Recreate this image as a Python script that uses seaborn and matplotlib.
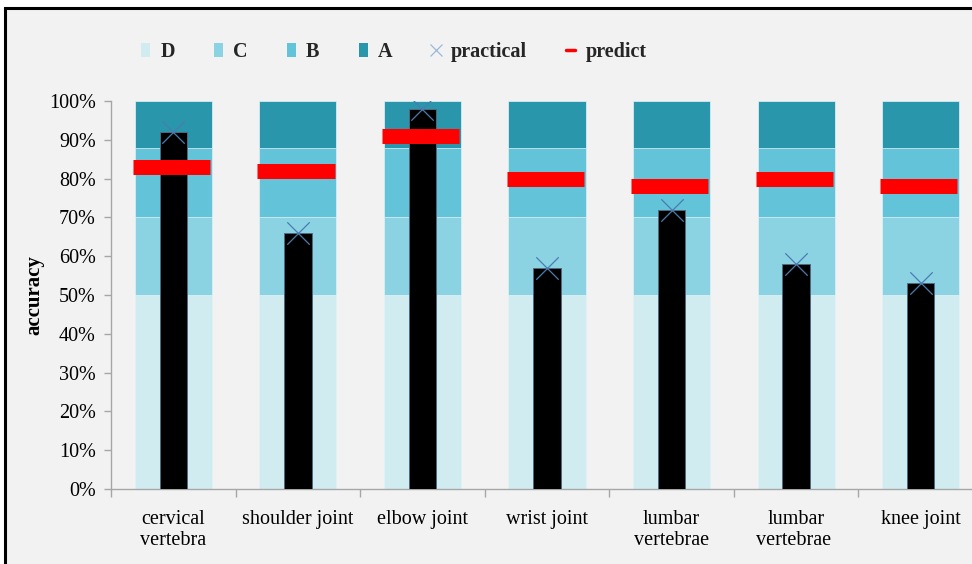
import matplotlib
matplotlib.use("Agg")
import matplotlib.pyplot as plt
from matplotlib.patches import Patch, Rectangle
from matplotlib.lines import Line2D
from matplotlib.ticker import PercentFormatter, FixedLocator
import seaborn as sns
import pandas as pd
import numpy as np

# ---- data ----
categories = ["cervical\nvertebra", "shoulder joint", "elbow joint", "wrist joint",
              "lumbar\nvertebrae", "lumbar\nvertebrae ", "knee joint"]
band_D = [0.50] * 7   # 0-50%
band_C = [0.20] * 7   # 50-70%
band_B = [0.18] * 7   # 70-88%
band_A = [0.12] * 7   # 88-100%
practical = [0.92, 0.66, 0.98, 0.57, 0.72, 0.58, 0.53]
predict = [0.83, 0.82, 0.91, 0.80, 0.78, 0.80, 0.78]

colors = {"D": "#D0ECF1", "C": "#8BD3E2", "B": "#62C3D9", "A": "#2A96AC"}
bg = "#F2F2F2"

df = pd.DataFrame({"cat": categories, "D": band_D, "C": band_C, "B": band_B,
                   "A": band_A, "practical": practical, "predict": predict})
df["top_D"] = df["D"]
df["top_C"] = df["top_D"] + df["C"]
df["top_B"] = df["top_C"] + df["B"]
df["top_A"] = df["top_B"] + df["A"]

sns.set_theme(style="white")
plt.rcParams["font.family"] = ["Liberation Serif", "DejaVu Serif"]

fig = plt.figure(figsize=(9.72, 5.64), dpi=100)
fig.patch.set_facecolor("white")
# grey panel with black frame
fig.patches.append(Rectangle((5 / 972, -0.1), 1.2, 1 - 8 / 564 + 0.1,
                             transform=fig.transFigure, facecolor=bg,
                             edgecolor="black", linewidth=2.2, zorder=-5))

ax = fig.add_axes([111 / 972, 1 - 489 / 564, 872 / 972, 388 / 564])
ax.set_facecolor(bg)
ax.set_zorder(2)

# stacked quality bands drawn from the top down
for key in ["A", "B", "C", "D"]:
    sns.barplot(data=df, x="cat", y=f"top_{key}", color=colors[key], width=0.62,
                saturation=1, edgecolor="#E6F4F7", linewidth=0.5, ax=ax, zorder=1)

# practical accuracy bars
sns.barplot(data=df, x="cat", y="practical", color="black", width=0.22,
            saturation=1, edgecolor="#4d6b80", linewidth=0.7, ax=ax, zorder=3)

xpos = np.arange(len(categories))
# predicted accuracy as thick red dashes
ax.hlines(df["predict"], xpos - 0.325, xpos + 0.295, colors="#FF0000",
          linewidth=10.8, zorder=4)
ax.collections[-1].set_capstyle("butt")

# practical markers
sns.scatterplot(x=xpos, y=df["practical"], marker="x", s=260, color="#4A7CB0",
                linewidth=0.9, ax=ax, zorder=5, legend=False)

ax.set_xlim(-0.5, 6.5)
ax.set_ylim(0, 1.0)
ax.set_yticks(np.arange(0, 1.01, 0.1))
ax.yaxis.set_major_formatter(PercentFormatter(1.0, decimals=0))
ax.set_xticks(xpos)
ax.set_xticklabels(categories)
ax.xaxis.set_minor_locator(FixedLocator(np.arange(-0.5, 7, 1.0)))

for s in ["top", "right"]:
    ax.spines[s].set_visible(False)
for s in ["left", "bottom"]:
    ax.spines[s].set_color("#A6A6A6")
    ax.spines[s].set_linewidth(1.0)

ax.tick_params(axis="y", which="major", left=True, length=5, width=1,
               color="#A6A6A6", labelsize=14.5, pad=6, labelcolor="black")
ax.tick_params(axis="x", which="major", bottom=False, length=0, labelsize=14.5,
               pad=15, labelcolor="black")
ax.tick_params(axis="x", which="minor", bottom=True, length=6, width=1,
               color="#A6A6A6")
for lab in ax.get_xticklabels():
    lab.set_linespacing(1.15)

ax.set_xlabel("")
ax.set_ylabel("accuracy", fontsize=15, fontweight="bold", color="black")
ax.yaxis.set_label_coords(-0.076, 0.5)

handles = [Patch(facecolor=colors[k], edgecolor="none") for k in ["D", "C", "B", "A"]]
handles += [Line2D([], [], linestyle="none", marker="x", markersize=9,
                   markeredgewidth=0.9, color="#9DB9D9"),
            Line2D([], [], linestyle="-", color="#FF0000", linewidth=2.5)]
labels = ["D", "C", "B", "A", "practical", "predict"]
leg = fig.legend(handles, labels, loc="center left", bbox_to_anchor=(123 / 972, 1 - 52 / 564),
                 ncol=6, frameon=False, handlelength=0.45, handleheight=0.7,
                 handletextpad=0.5, columnspacing=1.95,
                 prop={"family": "Liberation Serif", "weight": "bold", "size": 14.5})

fig.savefig("out.png", dpi=100, facecolor=fig.get_facecolor())
